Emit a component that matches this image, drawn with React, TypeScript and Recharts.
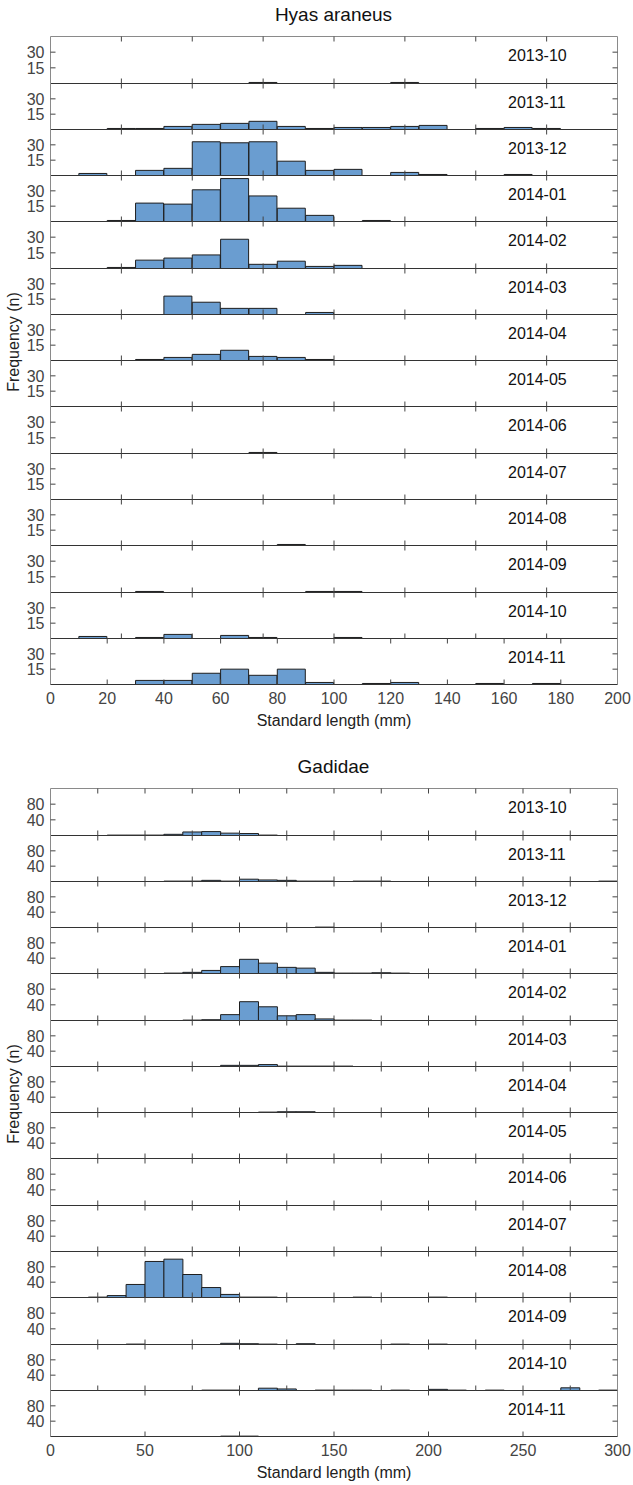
import React from 'react';
import { BarChart, Bar, XAxis, YAxis } from 'recharts';

const FONT = '"Liberation Sans", Arial, sans-serif';

// ---------- Hyas araneus (10 mm bins, 0–200 mm) ----------
const hyasBins = [0, 10, 20, 30, 40, 50, 60, 70, 80, 90, 100, 110, 120, 130, 140, 150, 160, 170, 180, 190];
const hyasMonths = ['2013-10', '2013-11', '2013-12', '2014-01', '2014-02', '2014-03', '2014-04', '2014-05', '2014-06', '2014-07', '2014-08', '2014-09', '2014-10', '2014-11'];
const hyas_2013_10 = [0, 0, 0, 0, 0, 0, 0, 1, 0, 0, 0, 0, 1, 0, 0, 0, 0, 0, 0, 0];
const hyas_2013_11 = [0, 0, 1, 1, 3, 5, 6, 8, 3, 1, 2, 2, 3, 4, 0, 1, 2, 1, 0, 0];
const hyas_2013_12 = [0, 2, 0, 5, 7, 33, 32, 33, 14, 5, 6, 0, 3, 1, 0, 0, 1, 0, 0, 0];
const hyas_2014_01 = [0, 0, 1, 18, 17, 31, 42, 25, 13, 6, 0, 1, 0, 0, 0, 0, 0, 0, 0, 0];
const hyas_2014_02 = [0, 0, 1, 8, 10, 13, 28, 4, 7, 2, 3, 0, 0, 0, 0, 0, 0, 0, 0, 0];
const hyas_2014_03 = [0, 0, 0, 0, 18, 12, 6, 6, 0, 2, 0, 0, 0, 0, 0, 0, 0, 0, 0, 0];
const hyas_2014_04 = [0, 0, 0, 1, 3, 6, 10, 4, 3, 1, 0, 0, 0, 0, 0, 0, 0, 0, 0, 0];
const hyas_2014_05 = [0, 0, 0, 0, 0, 0, 0, 0, 0, 0, 0, 0, 0, 0, 0, 0, 0, 0, 0, 0];
const hyas_2014_06 = [0, 0, 0, 0, 0, 0, 0, 1, 0, 0, 0, 0, 0, 0, 0, 0, 0, 0, 0, 0];
const hyas_2014_07 = [0, 0, 0, 0, 0, 0, 0, 0, 0, 0, 0, 0, 0, 0, 0, 0, 0, 0, 0, 0];
const hyas_2014_08 = [0, 0, 0, 0, 0, 0, 0, 0, 1, 0, 0, 0, 0, 0, 0, 0, 0, 0, 0, 0];
const hyas_2014_09 = [0, 0, 0, 1, 0, 0, 0, 0, 0, 1, 1, 0, 0, 0, 0, 0, 0, 0, 0, 0];
const hyas_2014_10 = [0, 2, 0, 1, 4, 0, 3, 1, 0, 0, 1, 0, 0, 0, 0, 0, 0, 0, 0, 0];
const hyas_2014_11 = [0, 0, 0, 4, 4, 11, 15, 9, 15, 2, 0, 1, 2, 0, 0, 1, 0, 1, 0, 0];
const hyasSeries = [hyas_2013_10, hyas_2013_11, hyas_2013_12, hyas_2014_01, hyas_2014_02, hyas_2014_03, hyas_2014_04, hyas_2014_05, hyas_2014_06, hyas_2014_07, hyas_2014_08, hyas_2014_09, hyas_2014_10, hyas_2014_11];
const hyasYTicks = [15, 30];
const hyasRowTicks = [25, 50, 75, 100, 125, 150, 175];
const hyasBottomTicks = [0, 20, 40, 60, 80, 100, 120, 140, 160, 180, 200];

// ---------- Gadidae (10 mm bins, 0–300 mm) ----------
const gadBins = [0, 10, 20, 30, 40, 50, 60, 70, 80, 90, 100, 110, 120, 130, 140, 150, 160, 170, 180, 190, 200, 210, 220, 230, 240, 250, 260, 270, 280, 290];
const gadMonths = ['2013-10', '2013-11', '2013-12', '2014-01', '2014-02', '2014-03', '2014-04', '2014-05', '2014-06', '2014-07', '2014-08', '2014-09', '2014-10', '2014-11'];
const gad_2013_10 = [0, 0, 0, 1, 1, 1, 3, 9, 10, 6, 5, 1, 0, 0, 0, 0, 0, 0, 0, 0, 0, 0, 0, 0, 0, 0, 0, 0, 0, 0];
const gad_2013_11 = [0, 0, 0, 0, 0, 0, 1, 1, 3, 1, 6, 4, 3, 1, 1, 0, 1, 1, 0, 0, 0, 0, 0, 0, 0, 0, 0, 0, 0, 1];
const gad_2013_12 = [0, 0, 0, 0, 0, 0, 0, 0, 0, 0, 0, 0, 0, 0, 1, 0, 0, 0, 0, 0, 0, 0, 0, 0, 0, 0, 0, 0, 0, 0];
const gad_2014_01 = [0, 0, 0, 0, 0, 0, 1, 3, 8, 18, 37, 27, 16, 14, 3, 1, 1, 2, 1, 0, 0, 0, 0, 0, 0, 0, 0, 0, 0, 0];
const gad_2014_02 = [0, 0, 0, 0, 0, 0, 0, 1, 2, 15, 48, 35, 12, 15, 4, 1, 1, 0, 0, 0, 0, 0, 0, 0, 0, 0, 0, 0, 0, 0];
const gad_2014_03 = [0, 0, 0, 0, 0, 0, 0, 0, 0, 3, 3, 5, 1, 1, 1, 1, 0, 0, 0, 0, 0, 0, 0, 0, 0, 0, 0, 0, 0, 0];
const gad_2014_04 = [0, 0, 0, 0, 0, 0, 0, 0, 0, 0, 0, 1, 2, 2, 0, 0, 0, 0, 0, 0, 0, 0, 0, 0, 0, 0, 0, 0, 0, 0];
const gad_2014_05 = [0, 0, 0, 0, 0, 0, 0, 0, 0, 0, 0, 0, 0, 0, 0, 0, 0, 0, 0, 0, 0, 0, 0, 0, 0, 0, 0, 0, 0, 0];
const gad_2014_06 = [0, 0, 0, 0, 0, 0, 0, 0, 0, 0, 0, 0, 0, 0, 0, 0, 0, 0, 0, 0, 0, 0, 0, 0, 0, 0, 0, 0, 0, 0];
const gad_2014_07 = [0, 0, 0, 0, 0, 0, 0, 0, 0, 0, 0, 0, 0, 0, 0, 0, 0, 0, 0, 0, 0, 0, 0, 0, 0, 0, 0, 0, 0, 0];
const gad_2014_08 = [0, 0, 1, 5, 34, 94, 100, 60, 26, 8, 1, 1, 0, 0, 0, 0, 1, 0, 0, 0, 1, 0, 0, 0, 0, 0, 0, 0, 0, 0];
const gad_2014_09 = [0, 0, 0, 0, 1, 0, 0, 0, 0, 3, 2, 1, 0, 2, 0, 0, 0, 0, 1, 0, 1, 0, 0, 0, 0, 0, 0, 0, 0, 0];
const gad_2014_10 = [0, 0, 0, 0, 0, 0, 0, 0, 1, 1, 0, 6, 4, 0, 1, 1, 1, 0, 1, 0, 3, 1, 0, 1, 0, 0, 0, 7, 0, 1];
const gad_2014_11 = [0, 0, 0, 0, 0, 0, 0, 0, 0, 1, 1, 0, 0, 0, 0, 0, 0, 0, 0, 0, 0, 0, 0, 0, 0, 0, 0, 0, 0, 0];
const gadSeries = [gad_2013_10, gad_2013_11, gad_2013_12, gad_2014_01, gad_2014_02, gad_2014_03, gad_2014_04, gad_2014_05, gad_2014_06, gad_2014_07, gad_2014_08, gad_2014_09, gad_2014_10, gad_2014_11];
const gadYTicks = [40, 80];
const gadRowTicks = [25, 50, 75, 100, 125, 150, 175, 200, 225, 250, 275];
const gadBottomTicks = [0, 50, 100, 150, 200, 250, 300];

// ---------- layout ----------
const W = 633;
const PLOT_LEFT = 50.5;
const PLOT_RIGHT = 617.5;
const ROW_H = 46.27;
const AX = 1; // thickness reserved by each axis
const HALF = 0.5; // keeps frame lines on pixel centres
const BOTTOM_EXTRA = 46;
const TS = 5; // inward tick length
const FILL = '#6a9dd0';
const EDGE = '#1e1e1e';
const FRAME = '#8a8a8a';
const DARK = '#333';
const TICK = '#444';

const NoLabel = () => <g />;

type RowProps = {
  bins: number[];
  counts: number[];
  plotH: number;
  xMax: number;
  yMax: number;
  yTicks: number[];
  xTicks: number[];
  first: boolean;
  last: boolean;
};

function Row({ bins, counts, plotH, xMax, yMax, yTicks, xTicks, first, last }: RowProps) {
  const data = bins.map((b, i) => ({ bin: b, n: counts[i] }));
  const extra = last ? BOTTOM_EXTRA : 0;
  const h = plotH + 2 * AX + 2 * HALF + extra;
  const tickLine = { stroke: TICK, strokeWidth: 1 };
  return (
    <BarChart
      width={W}
      height={h}
      data={data}
      margin={{ top: HALF, right: W - PLOT_RIGHT - AX, bottom: HALF + extra, left: PLOT_LEFT - AX }}
      barCategoryGap={0}
      barGap={0}
      style={{ overflow: 'visible' }}
    >
      <XAxis xAxisId="cat" dataKey="bin" type="category" hide />
      <XAxis
        xAxisId="bottom"
        dataKey="bin"
        type="number"
        orientation="bottom"
        domain={[0, xMax]}
        allowDataOverflow
        ticks={xTicks}
        interval={0}
        height={AX}
        tickSize={-TS}
        tickMargin={TS + 8}
        stroke={DARK}
        axisLine={{ stroke: DARK, strokeWidth: 1 }}
        tickLine={tickLine}
        tick={last ? { fontSize: 16, fill: '#444', fontFamily: FONT } : NoLabel}
      />
      <XAxis
        xAxisId="top"
        dataKey="bin"
        type="number"
        orientation="top"
        domain={[0, xMax]}
        allowDataOverflow
        ticks={xTicks}
        interval={0}
        height={AX}
        tickSize={-TS}
        stroke={TICK}
        axisLine={first ? { stroke: FRAME, strokeWidth: 1 } : false}
        tickLine={tickLine}
        tick={NoLabel}
      />
      <YAxis
        yAxisId="left"
        domain={[0, yMax]}
        allowDataOverflow
        ticks={yTicks}
        interval={0}
        width={AX}
        tickSize={-TS}
        tickMargin={11}
        stroke={TICK}
        axisLine={{ stroke: FRAME }}
        tickLine={tickLine}
        tick={{ fontSize: 16, fill: '#444', fontFamily: FONT }}
      />
      <YAxis
        yAxisId="right"
        orientation="right"
        domain={[0, yMax]}
        allowDataOverflow
        ticks={yTicks}
        interval={0}
        width={AX}
        tickSize={-TS}
        stroke={TICK}
        axisLine={{ stroke: FRAME }}
        tickLine={tickLine}
        tick={NoLabel}
      />
      <Bar
        xAxisId="cat"
        yAxisId="left"
        dataKey="n"
        fill={FILL}
        stroke={EDGE}
        strokeWidth={1}
        isAnimationActive={false}
      />
    </BarChart>
  );
}

type PanelProps = {
  title: string;
  top: number;
  bins: number[];
  months: string[];
  series: number[][];
  xMax: number;
  yMax: number;
  yTicks: number[];
  rowTicks: number[];
  bottomTicks: number[];
};

function Panel({ title, top, bins, months, series, xMax, yMax, yTicks, rowTicks, bottomTicks }: PanelProps) {
  const n = months.length;
  const edges = Array.from({ length: n + 1 }, (_, i) => Math.round(top + i * ROW_H));
  const bottom = edges[n];
  const mid = (edges[0] + bottom) / 2;
  return (
    <>
      <div
        style={{
          position: 'absolute',
          left: 0,
          width: W,
          top: edges[0] - 22,
          transform: 'translateY(-50%)',
          textAlign: 'center',
          fontFamily: FONT,
          fontSize: 19,
          color: '#111',
          paddingLeft: 34,
          boxSizing: 'border-box',
        }}
      >
        {title}
      </div>
      {months.map((m, i) => (
        <div key={m} style={{ position: 'absolute', left: 0, top: edges[i] - AX - HALF - HALF }}>
          <Row
            bins={bins}
            counts={series[i]}
            plotH={edges[i + 1] - edges[i]}
            xMax={xMax}
            yMax={yMax}
            yTicks={yTicks}
            xTicks={i === n - 1 ? bottomTicks : rowTicks}
            first={i === 0}
            last={i === n - 1}
          />
        </div>
      ))}
      {months.map((m, i) => (
        <div
          key={'l' + m}
          style={{
            position: 'absolute',
            left: 508,
            top: edges[i] + 19,
            transform: 'translateY(-50%)',
            fontFamily: FONT,
            fontSize: 16,
            color: '#111',
            whiteSpace: 'nowrap',
          }}
        >
          {m}
        </div>
      ))}
      <div
        style={{
          position: 'absolute',
          left: 14,
          top: mid - 19,
          transform: 'translate(-50%, -50%) rotate(-90deg)',
          fontFamily: FONT,
          fontSize: 16,
          color: '#222',
          whiteSpace: 'nowrap',
        }}
      >
        Frequency (n)
      </div>
      <div
        style={{
          position: 'absolute',
          left: PLOT_LEFT,
          width: PLOT_RIGHT - PLOT_LEFT,
          top: bottom + 36,
          transform: 'translateY(-50%)',
          textAlign: 'center',
          fontFamily: FONT,
          fontSize: 16,
          color: '#222',
        }}
      >
        Standard length (mm)
      </div>
    </>
  );
}

export default function App() {
  return (
    <div style={{ position: 'absolute', left: 0, top: 0, width: 633, height: 1485, background: '#fff', overflow: 'hidden' }}>
      <Panel
        title="Hyas araneus"
        top={37.3}
        bins={hyasBins}
        months={hyasMonths}
        series={hyasSeries}
        xMax={200}
        yMax={45}
        yTicks={hyasYTicks}
        rowTicks={hyasRowTicks}
        bottomTicks={hyasBottomTicks}
      />
      <Panel
        title="Gadidae"
        top={789.3}
        bins={gadBins}
        months={gadMonths}
        series={gadSeries}
        xMax={300}
        yMax={120}
        yTicks={gadYTicks}
        rowTicks={gadRowTicks}
        bottomTicks={gadBottomTicks}
      />
    </div>
  );
}
